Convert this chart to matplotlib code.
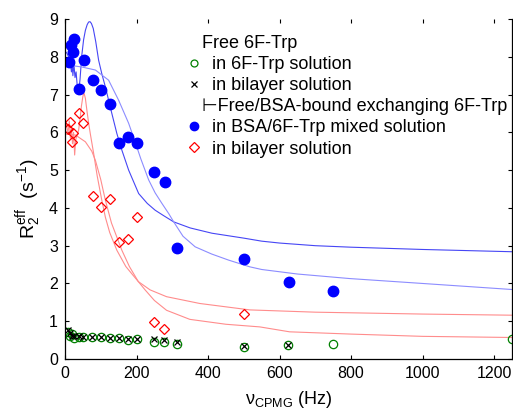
import matplotlib.pyplot as plt
from matplotlib.lines import Line2D

plt.rcParams['font.family'] = ['Liberation Sans', 'DejaVu Sans']
plt.rcParams['mathtext.fontset'] = 'custom'
plt.rcParams['mathtext.rm'] = 'Liberation Sans'
plt.rcParams['mathtext.it'] = 'Liberation Sans:italic'
plt.rcParams['mathtext.default'] = 'regular'

# free 6F-Trp in 6F-Trp solution (open green circles)
free_sol_x = [9, 14, 19, 25, 40, 50, 75, 100, 125, 150, 175, 200, 250, 278, 312, 500, 625, 750, 1250]
free_sol_y = [0.72, 0.62, 0.65, 0.55, 0.58, 0.58, 0.58, 0.57, 0.55, 0.55, 0.50, 0.52, 0.45, 0.45, 0.39, 0.33, 0.37, 0.41, 0.52]

# free 6F-Trp in bilayer solution (black crosses)
free_bil_x = [9, 14, 19, 25, 40, 50, 75, 100, 125, 150, 175, 200, 250, 278, 312, 500, 625]
free_bil_y = [0.78, 0.70, 0.62, 0.60, 0.60, 0.58, 0.58, 0.57, 0.55, 0.55, 0.52, 0.53, 0.52, 0.50, 0.45, 0.35, 0.38]

# exchanging 6F-Trp in BSA/6F-Trp mixed solution (filled blue circles)
bsa_x = [11, 16, 21, 25, 40, 52, 77, 100, 127, 152, 175, 201, 250, 279, 314, 500, 627, 750]
bsa_y = [7.85, 8.30, 8.12, 8.47, 7.14, 7.92, 7.38, 7.12, 6.74, 5.71, 5.87, 5.71, 4.94, 4.69, 2.94, 2.65, 2.04, 1.79]

# exchanging 6F-Trp in bilayer solution (open red diamonds)
bil_x = [9, 13, 19, 23, 40, 51, 77, 100, 127, 152, 175, 201, 249, 278, 501]
bil_y = [6.10, 6.28, 5.75, 5.97, 6.52, 6.25, 4.32, 4.02, 4.24, 3.10, 3.17, 3.75, 0.98, 0.80, 1.20]

# fitted dispersion curves, BSA/6F-Trp solution
fit_bsa1_x = [0, 5, 10, 15, 18, 20, 22, 25, 28, 31, 35, 38, 42, 47, 52, 57, 62, 66, 70, 74, 79, 86, 94, 103,
              113, 122, 131, 145, 159, 178, 206, 230, 252, 275, 304, 350, 411, 500, 550, 600, 700, 800, 1000, 1250]
fit_bsa1_y = [8.15, 8.10, 8.00, 7.85, 7.60, 7.90, 7.50, 7.80, 7.45, 7.60, 7.15, 7.05, 7.40, 8.04, 8.45, 8.70, 8.85,
              8.92, 8.93, 8.88, 8.75, 8.40, 7.91, 7.55, 7.20, 6.85, 6.50, 5.97, 5.53, 5.00, 4.38, 4.12, 3.94, 3.80,
              3.63, 3.47, 3.33, 3.20, 3.12, 3.07, 3.00, 2.96, 2.90, 2.84]
fit_bsa2_x = [0, 10, 47, 85, 122, 150, 178, 196, 212, 234, 252, 271, 290, 304, 330, 364, 410, 457, 517, 550,
              650, 796, 1000, 1250]
fit_bsa2_y = [7.78, 7.78, 7.73, 7.65, 7.38, 6.85, 6.24, 5.75, 5.30, 4.74, 4.40, 4.12, 3.85, 3.63, 3.25, 2.97,
              2.78, 2.62, 2.44, 2.37, 2.25, 2.13, 2.00, 1.84]

# fitted dispersion curves, bilayer solution
fit_bil1_x = [0, 4, 8, 12, 15, 18, 21, 24, 27, 30, 34, 38, 42, 46, 50, 53, 57, 61, 66, 71, 80, 90, 103, 113,
              125, 145, 170, 190, 205, 238, 284, 377, 517, 700, 1000, 1250]
fit_bil1_y = [6.10, 6.25, 5.95, 6.30, 5.85, 6.15, 5.70, 6.00, 5.40, 5.80, 5.95, 6.05, 6.35, 6.70, 6.95, 7.05,
              6.90, 6.60, 6.25, 5.95, 5.45, 4.85, 4.20, 3.75, 3.35, 2.88, 2.45, 2.22, 2.05, 1.83, 1.65, 1.47,
              1.30, 1.24, 1.19, 1.16]
fit_bil2_x = [0, 10, 29, 57, 75, 85, 100, 113, 130, 159, 180, 205, 224, 250, 284, 349, 450, 545, 628, 800,
              1000, 1250]
fit_bil2_y = [5.95, 5.95, 5.93, 5.75, 5.50, 5.26, 4.75, 4.20, 3.60, 2.88, 2.45, 2.05, 1.83, 1.55, 1.29, 1.05,
              0.92, 0.85, 0.72, 0.66, 0.60, 0.57]

labels = ['Free 6F-Trp', '  in 6F-Trp solution', '  in bilayer solution',
          '\u22a2Free/BSA-bound exchanging 6F-Trp', '  in BSA/6F-Trp mixed solution', '  in bilayer solution']

fig = plt.figure(figsize=(5.13, 4.09), dpi=100)
ax = fig.add_axes([0.1267, 0.1222, 0.8713, 0.8313])

ax.plot(fit_bsa1_x, fit_bsa1_y, color='#4646f5', lw=0.8)
ax.plot(fit_bsa2_x, fit_bsa2_y, color='#8c8cff', lw=0.8)
ax.plot(fit_bil1_x, fit_bil1_y, color='#ff8c8c', lw=0.8)
ax.plot(fit_bil2_x, fit_bil2_y, color='#ff8c8c', lw=0.8)

ax.plot(free_sol_x, free_sol_y, 'o', mfc='none', mec='green', ms=6, mew=0.9)
ax.plot(free_bil_x, free_bil_y, 'x', color='k', ms=4.5, mew=0.9)
ax.plot(bsa_x, bsa_y, 'o', color='blue', ms=7.5)
ax.plot(bil_x, bil_y, 'D', mfc='none', mec='red', ms=5.5, mew=0.9)

handles = [
    Line2D([], [], ls='none'),
    Line2D([], [], ls='none', marker='o', mfc='none', mec='green', ms=5, mew=0.9),
    Line2D([], [], ls='none', marker='x', color='k', ms=4.5, mew=0.9),
    Line2D([], [], ls='none'),
    Line2D([], [], ls='none', marker='o', color='blue', ms=6),
    Line2D([], [], ls='none', marker='D', mfc='none', mec='red', ms=5, mew=0.9),
]
ax.legend(handles, labels, loc='upper left', bbox_to_anchor=(0.26, 0.975), frameon=False,
          fontsize=13, handlelength=0.6, handletextpad=0.15, labelspacing=0.23, borderaxespad=0)

ax.set_xlim(0, 1250)
ax.set_ylim(0, 9)
ax.set_xticks([0, 200, 400, 600, 800, 1000, 1200])
ax.set_yticks(range(10))
ax.tick_params(direction='in', top=True, right=True, length=3, width=0.8, labelsize=11.5, pad=5)
ax.spines['top'].set_visible(False)
for s in ['left', 'bottom', 'right']:
    ax.spines[s].set_linewidth(0.9)

ax.set_xlabel(r'$\nu_{\rm CPMG}$ (Hz)', fontsize=13, labelpad=6)
ax.set_ylabel(r'R$_2^{\rm eff}$  (s$^{-1}$)', fontsize=14)
ax.yaxis.set_label_coords(-0.05, 0.47)

fig.savefig('out.png', dpi=100)
